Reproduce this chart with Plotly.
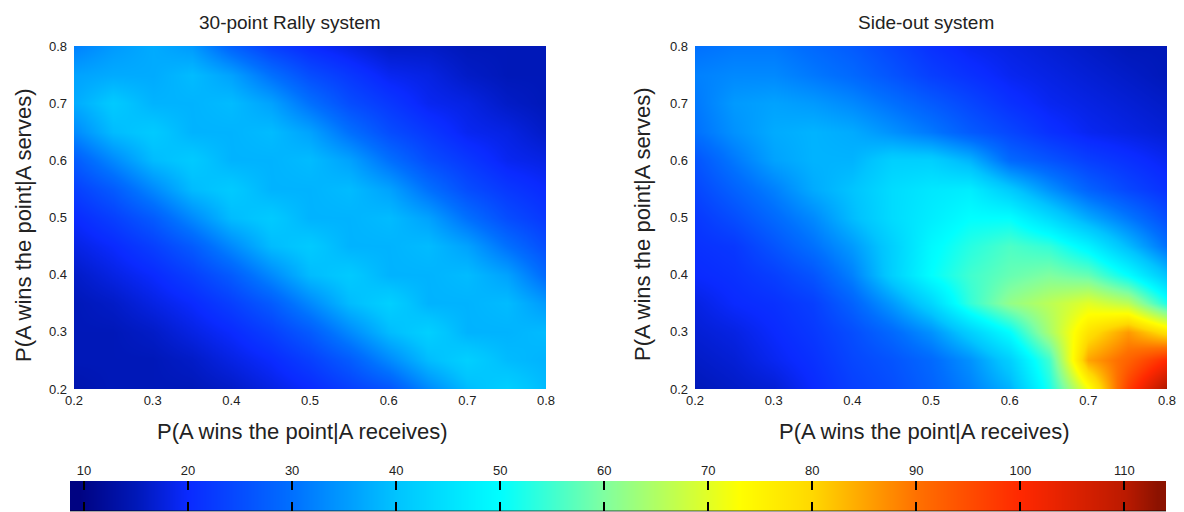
import plotly.graph_objects as go

W, H = 1184, 512
receive_p = [0.20,0.25,0.30,0.35,0.40,0.45,0.50,0.55,0.60,0.65,0.70,0.75,0.80]
serve_p = [0.80,0.75,0.70,0.65,0.60,0.55,0.50,0.45,0.40,0.35,0.30,0.25,0.20]

rally_values = [
 [32,35,37,35,28,23,20,18,16,16,15,15,15],
 [36,37,37,39,36,30,25,22,19,18,16,15,15],
 [37,41,38,38,39,36,30,25,22,19,18,16,15],
 [33,39,41,38,38,39,36,30,25,22,19,18,16],
 [27,33,39,41,38,38,39,36,30,25,22,19,18],
 [23,27,33,39,41,38,38,39,36,30,25,22,20],
 [20,23,27,33,39,41,38,38,39,36,30,25,22],
 [18,20,23,27,33,39,41,38,38,39,36,30,25],
 [16,18,20,23,27,33,39,41,38,38,39,36,29],
 [15,16,18,20,23,27,33,39,42,38,38,39,35],
 [15,15,16,18,20,23,27,33,39,42,38,38,39],
 [15,15,15,16,18,20,23,27,33,39,42,39,38],
 [14,15,15,15,16,18,20,23,26,33,39,42,39],
]
sideout_values = [
 [30,31,31,29,27,24,21,19,18,17,16,15,15],
 [32,33,33,31,29,26,23,21,19,18,17,16,15],
 [31,35,36,35,33,30,27,24,21,19,18,17,16],
 [30,34,37,38,37,34,31,27,24,21,19,18,17],
 [26,31,36,38,38,42,42,38,29,26,23,21,19],
 [24,28,32,37,40,44,46,47,41,34,28,24,21],
 [22,25,29,33,39,44,47,50,50,44,37,31,25],
 [21,22,26,30,35,42,49,53,56,54,48,39,30],
 [20,21,23,26,32,42,50,55,58,60,58,50,40],
 [18,20,21,23,28,35,43,54,62,66,70,66,52],
 [17,18,20,22,25,29,34,42,50,64,78,86,78],
 [16,17,19,21,24,26,29,34,42,55,85,92,100],
 [15,16,17,20,23,25,28,32,38,52,72,97,112],
]
bar_levels = [9.47,11.12,12.76,14.41,16.05,17.70,19.35,20.99,22.64,24.28,25.93,27.58,29.22,30.87,32.51,34.16,
 35.81,37.45,39.10,40.74,42.39,44.04,45.68,47.33,48.97,50.62,52.27,53.91,55.56,57.20,58.85,60.50,
 62.14,63.79,65.43,67.08,68.73,70.37,72.02,73.66,75.31,76.96,78.60,80.25,81.89,83.54,85.19,86.83,
 88.48,90.12,91.77,93.42,95.06,96.71,98.35,100.0,101.65,103.29,104.94,106.58,108.23,109.88,111.52,113.17]
bar_ticks = [10,20,30,40,50,60,70,80,90,100,110]
axis_ticks = [0.2,0.3,0.4,0.5,0.6,0.7,0.8]
titles = ["30-point Rally system", "Side-out system"]
x_label = "P(A wins the point|A receives)"
y_label = "P(A wins the point|A serves)"

cscale = [[0,"#00007a"],[0.06,"#0018b8"],[0.108,"#0a2aff"],[0.2027,"#0070ff"],[0.2976,"#00c4ff"],
          [0.3925,"#00ffff"],[0.4874,"#80ffa0"],[0.6108,"#ffff00"],[0.677,"#ffd800"],[0.7725,"#ff7000"],
          [0.8675,"#ff2800"],[0.9624,"#bb1a00"],[1,"#801000"]]
FONT = "Liberation Sans"
TXT = "#222222"

fig = go.Figure()
for vals, xa, ya in ((rally_values,"x","y"),(sideout_values,"x2","y2")):
    fig.add_trace(go.Heatmap(x=receive_p, y=serve_p, z=vals, xaxis=xa, yaxis=ya,
                             coloraxis="coloraxis", zsmooth="best"))
fig.add_trace(go.Heatmap(x=bar_levels, y=[0], z=[bar_levels], xaxis="x3", yaxis="y3",
                         coloraxis="coloraxis", zsmooth="best"))

def px_x(a, b): return [a/W, b/W]
def px_y(top, bot): return [1-bot/H, 1-top/H]

axis_common = dict(range=[0.2,0.8], tickmode="array", tickvals=axis_ticks,
                   ticktext=[f"{t:.1f}" for t in axis_ticks], automargin=False,
                   ticks="", showgrid=False, zeroline=False, showline=False,
                   tickfont=dict(family=FONT,size=13,color=TXT))
def label(text, x, y, size, angle=0):
    return dict(text=text, x=x/W, y=1-y/H, xref="paper", yref="paper", showarrow=False,
                xanchor="center", yanchor="middle", textangle=angle,
                font=dict(family=FONT,size=size,color=TXT))
fig.update_layout(
    width=W, height=H, autosize=False, margin=dict(l=0,r=0,t=0,b=0),
    paper_bgcolor="white", plot_bgcolor="white", showlegend=False,
    coloraxis=dict(colorscale=cscale, cmin=8.65, cmax=114, showscale=False),
    xaxis=dict(domain=px_x(74,546), anchor="y", ticklabelstandoff=2, **axis_common),
    yaxis=dict(domain=px_y(46,389), anchor="x", ticklabelstandoff=6, **axis_common),
    xaxis2=dict(domain=px_x(695,1167), anchor="y2", ticklabelstandoff=2, **axis_common),
    yaxis2=dict(domain=px_y(46,389), anchor="x2", ticklabelstandoff=6, **axis_common),
    xaxis3=dict(domain=px_x(70,1166), anchor="y3", side="top", range=[8.65,114], automargin=False,
                tickmode="array", tickvals=bar_ticks, ticks="inside", ticklen=9, tickwidth=1.5,
                tickcolor="black", mirror="ticks", showline=False, showgrid=False, zeroline=False,
                ticklabelstandoff=2, tickfont=dict(family=FONT,size=13,color=TXT)),
    yaxis3=dict(domain=px_y(481,511), anchor="x3", visible=False, range=[-0.5,0.5]),
    shapes=[dict(type="line", xref="x3 domain", yref="y3 domain", x0=0, x1=1, y0=0, y1=0,
                 line=dict(color="rgba(0,0,0,0.7)", width=1))],
    annotations=[
        label(titles[0], 290, 22, 19), label(titles[1], 926, 22, 19),
        label(x_label, 302, 431, 22), label(x_label, 924, 431, 22),
        label(y_label, 23, 225, 22, -90), label(y_label, 642, 224, 22, -90),
    ],
)
fig.write_html("out.html", config={"displayModeBar": False},
               post_script="document.body.style.margin='0';document.documentElement.style.overflow='hidden';")
